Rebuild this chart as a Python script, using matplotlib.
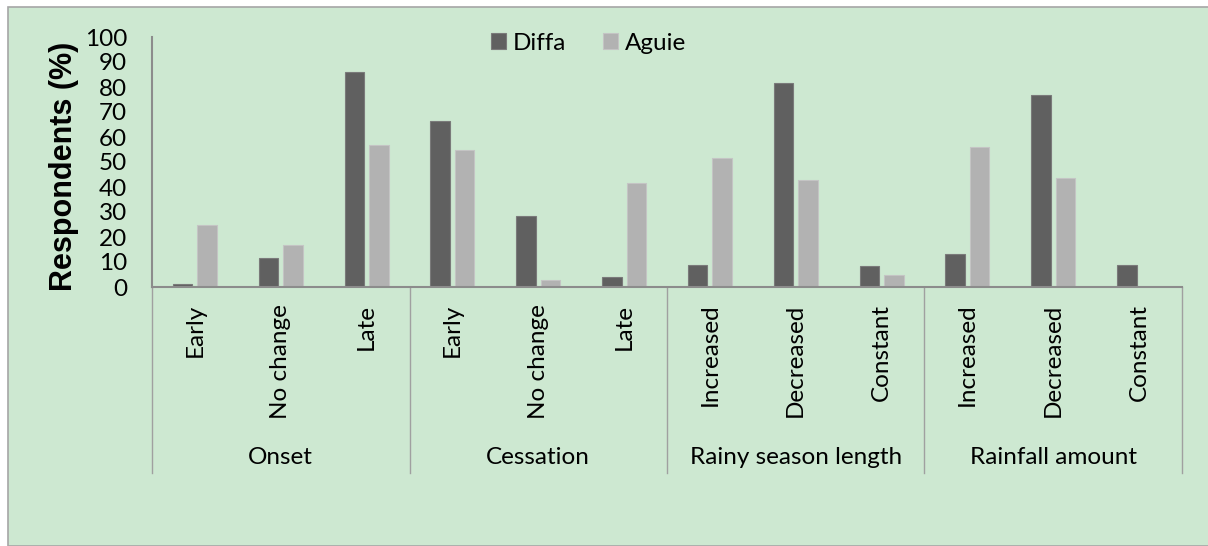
import matplotlib.pyplot as plt
from matplotlib.patches import Rectangle
from matplotlib.transforms import blended_transform_factory

plt.rcParams['font.family'] = ['Lato', 'DejaVu Sans']

groups = ['Onset', 'Cessation', 'Rainy season length', 'Rainfall amount']
categories = ['Early', 'No change', 'Late',
              'Early', 'No change', 'Late',
              'Increased', 'Decreased', 'Constant',
              'Increased', 'Decreased', 'Constant']
diffa = [1.3, 11.6, 86.0, 66.3, 28.6, 4.1, 8.8, 81.8, 8.4, 13.3, 76.8, 8.8]
aguie = [25.0, 17.0, 56.7, 54.8, 2.7, 41.5, 51.7, 42.7, 4.7, 55.9, 43.6, 0.0]

green = '#cde8d1'
axis_grey = '#8c8c8c'
fs = 17.5

fig = plt.figure(figsize=(12.08, 5.46), dpi=100)
fig.patch.set_facecolor('white')
fig.patches.append(Rectangle((8 / 1208, 0), 1.0, 1 - 7 / 546,
                             transform=fig.transFigure, facecolor=green,
                             edgecolor='#a6a6a6', linewidth=1.2, zorder=-10))

ax = fig.add_axes([152 / 1208, 1 - 287 / 546, 1030 / 1208, 250 / 546])
ax.set_facecolor('none')

x = list(range(len(categories)))
w = 0.226
off = 0.143
ax.bar([i - off for i in x], diffa, w, color='#606060', edgecolor='#7a7a7a',
       linewidth=0.8, label='Diffa')
ax.bar([i + off for i in x], aguie, w, color='#b2b2b2', edgecolor='#c4c4c4',
       linewidth=0.8, label='Aguie')

ax.set_xlim(-0.5, len(categories) - 0.5)
ax.set_ylim(0, 100)
ax.set_yticks(range(0, 101, 10))
ax.tick_params(axis='y', length=0, pad=18, labelsize=fs)
ax.set_xticks(x, categories, rotation=90)
ax.tick_params(axis='x', length=0, pad=12, labelsize=fs)

for s in ['top', 'right']:
    ax.spines[s].set_visible(False)
for s in ['left', 'bottom']:
    ax.spines[s].set_color(axis_grey)
    ax.spines[s].set_linewidth(1.5)

# group separators and group names under the category labels
trans = blended_transform_factory(ax.transData, ax.transAxes)
for b in [-0.5, 2.5, 5.5, 8.5, 11.5]:
    ax.plot([b, b], [0, -0.744], color='#a0a0a0', linewidth=1.0,
            transform=trans, clip_on=False)
for k, g in enumerate(groups):
    ax.text(3 * k + 1, -0.68, g, transform=trans, ha='center', va='center',
            fontsize=fs)

fig.text(64 / 1208, 1 - 166 / 546, 'Respondents (%)', rotation=90,
         ha='center', va='center', fontsize=22, fontweight='bold',
         family='Liberation Sans')

ax.legend(loc='center', bbox_to_anchor=(0.424, 0.975), ncol=2, frameon=False,
          fontsize=fs, handlelength=0.6, handleheight=0.6,
          handletextpad=0.3, columnspacing=1.5)

fig.savefig('out.png', dpi=100)
